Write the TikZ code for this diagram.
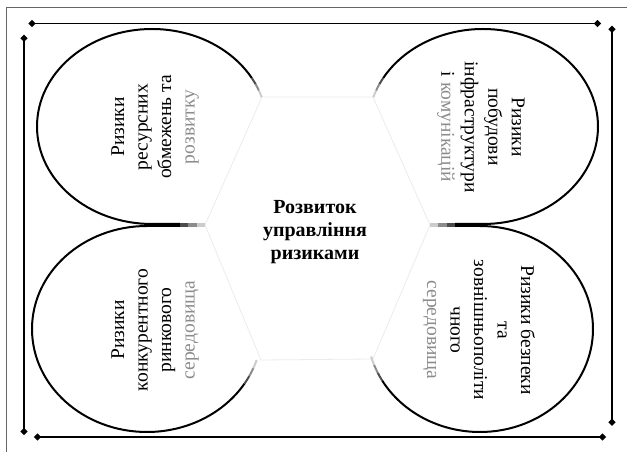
\documentclass[tikz,border=0pt]{standalone}
\usepackage{fontspec}
\setmainfont{Liberation Serif}
\usetikzlibrary{shapes.geometric}
\tikzset{
  frame/.style={line width=1.2pt, black},
  dia/.style={diamond, fill=black, draw=none, inner sep=0pt, minimum width=7.5pt, minimum height=7.5pt},
  shp/.style={line width=2pt, black},
  hexa/.style={line width=0.8pt, black!8},
  lbl/.style={align=center, inner sep=0pt, font=\fontsize{19.5}{23.5}\selectfont},
  ctr/.style={align=center, inner sep=0pt, font=\fontsize{20}{23}\selectfont\bfseries},
}
\newcommand\myfadearc[5]{% center, start, end, rx, ry
  \pgfmathsetmacro\myfa{#2+(#3-#2)/3}%
  \pgfmathsetmacro\myfb{#2+2*(#3-#2)/3}%
  \draw[shp,draw=black!70] (#1) ++(#2:#4 and #5) arc[start angle=#2,end angle=\myfa,x radius=#4,y radius=#5];
  \draw[shp,draw=black!45] (#1) ++(\myfa:#4 and #5) arc[start angle=\myfa,end angle=\myfb,x radius=#4,y radius=#5];
  \draw[shp,draw=black!20] (#1) ++(\myfb:#4 and #5) arc[start angle=\myfb,end angle=#3,x radius=#4,y radius=#5];
}
\newcommand\myfadeline[3]{% y, x-start (solid side), x-end (faded side)
  \pgfmathsetmacro\myfa{#2+(#3-#2)/3}%
  \pgfmathsetmacro\myfb{#2+2*(#3-#2)/3}%
  \draw[shp,draw=black!70] (#2,#1) -- (\myfa,#1);
  \draw[shp,draw=black!45] (\myfa,#1) -- (\myfb,#1);
  \draw[shp,draw=black!20] (\myfb,#1) -- (#3,#1);
}
\begin{document}
\begin{tikzpicture}[x=1pt,y=1pt]
\useasboundingbox (0,0) rectangle (627,452);
% partial grey outer frame
\coordinate (g1) at (6,0);
\coordinate (g2) at (6,444);
\coordinate (g3) at (627,444);
\draw[line width=1pt, black!60] (g1) -- (g2) -- (g3);

% black frame lines with diamond ends
\node[dia] (t1) at (32,428.5) {};
\node[dia] (t2) at (597.5,428.5) {};
\node[dia] (l1) at (24,413.8) {};
\node[dia] (l2) at (24,20.5) {};
\node[dia] (b1) at (37.5,15) {};
\node[dia] (b2) at (602.5,15) {};
\node[dia] (r1) at (612,422.8) {};
\node[dia] (r2) at (612,29.8) {};
\draw[frame] (t1.center) -- (t2.center);
\draw[frame] (l1.center) -- (l2.center);
\draw[frame] (b1.center) -- (b2.center);
\draw[frame] (r1.center) -- (r2.center);

% faint hexagon
\coordinate (h1) at (262,355);
\coordinate (h2) at (373,355);
\coordinate (h3) at (430,227);
\coordinate (h4) at (373,93);
\coordinate (h5) at (261,92);
\coordinate (h6) at (205,227);
\draw[hexa] (h1) -- (h2) -- (h3) -- (h4) -- (h5) -- (h6) -- cycle;

% ellipse centres
\coordinate (tlc) at (152,325.5);
\coordinate (trc) at (483,325.5);
\coordinate (blc) at (147,123);
\coordinate (brc) at (480,123);

% top-left shape
\draw[shp] (180,228) -- (152,228) arc[start angle=270,end angle=29.7,x radius=115pt,y radius=97.5pt];
\myfadeline{228}{180}{205}
\myfadearc{tlc}{29.7}{17.5}{115pt}{97.5pt}

% bottom-left shape
\draw[shp] (180,226) -- (147,226) arc[start angle=90,end angle=328,x radius=115pt,y radius=103pt];
\myfadeline{226}{180}{205}
\myfadearc{blc}{328}{342.5}{115pt}{103pt}

% top-right shape
\draw[shp] (455,228) -- (483,228) arc[start angle=-90,end angle=150.3,x radius=115pt,y radius=97.5pt];
\myfadeline{228}{455}{430}
\myfadearc{trc}{150.3}{162.5}{115pt}{97.5pt}

% bottom-right shape
\draw[shp] (455,226) -- (480,226) arc[start angle=90,end angle=-150,x radius=113pt,y radius=103pt];
\myfadeline{226}{455}{430}
\myfadearc{brc}{-150}{-164.5}{113pt}{103pt}

% texts
\node[ctr] (centre) at (315,220) {Розвиток\\управління\\ризиками};
\node[lbl, rotate=90] (tl) at (155,325) {Ризики\\ресурсних\\обмежень та\\{\color{black!45}розвитку}};
\node[lbl, rotate=90] (bl) at (155,122) {Ризики\\конкурентного\\ринкового\\{\color{black!45}середовища}};
\node[lbl, rotate=-90] (tr) at (481,325) {Ризики\\побудови\\інфраструктури\\і {\color{black!45}комунікацій}};
\node[lbl, rotate=-90] (br) at (479,122) {Ризики безпеки\\та\\зовнішньополіти\\чного\\{\color{black!45}середовища}};
\end{tikzpicture}
\end{document}
